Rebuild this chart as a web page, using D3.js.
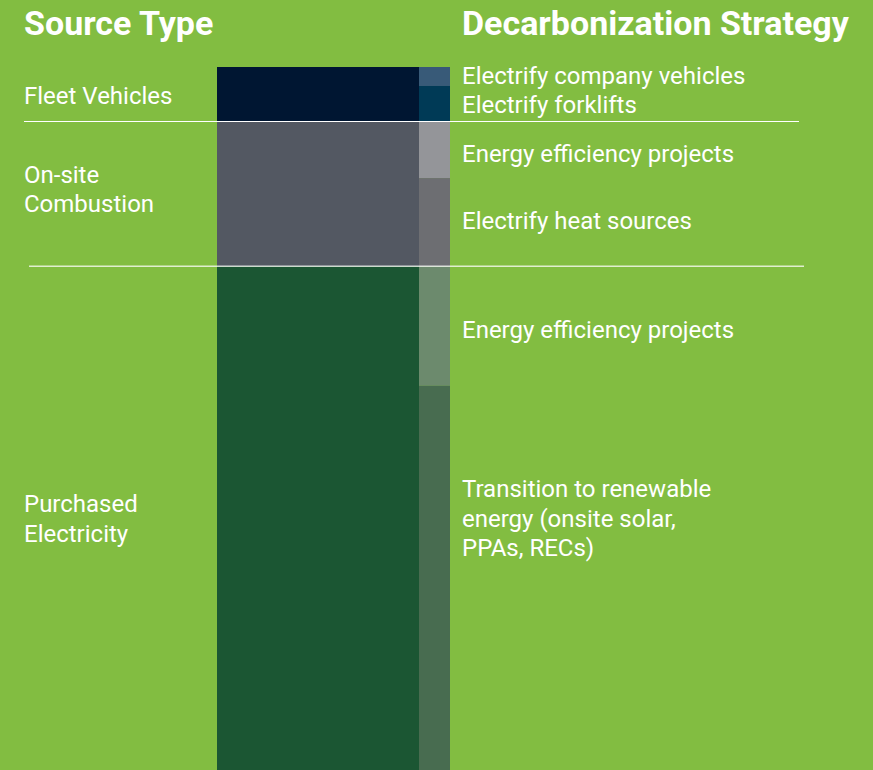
<!DOCTYPE html>
<html>
<head>
<meta charset="utf-8">
<script src="https://cdn.jsdelivr.net/npm/d3@7"></script>
<style>
  html, body { margin: 0; padding: 0; background: #82bd41; overflow: hidden; }
  text { font-family: Roboto, "Noto Sans", sans-serif; fill: #fff; }
</style>
</head>
<body>
<script>
// source types (left bar) - share of emissions
const sourceLines = [["Fleet Vehicles"], ["On-site", "Combustion"], ["Purchased", "Electricity"]];
const sourceValues = [7.75, 20.6, 71.65];
const sourceColors = ["#001632", "#535862", "#1b5633"];

// strategies (right thin bar)
const strategyLines = [
  ["Electrify company vehicles"],
  ["Electrify forklifts"],
  ["Energy efficiency projects"],
  ["Electrify heat sources"],
  ["Energy efficiency projects"],
  ["Transition to renewable", "energy (onsite solar,", "PPAs, RECs)"]
];
const strategyValues = [2.7, 5.05, 8.05, 12.55, 17.0, 54.65];
const strategyColors = ["#385a78", "#003a56", "#949599", "#6d6e72", "#6c8a6d", "#486c50"];

const W = 873, H = 770;

const svg = d3.select("body")
  .append("svg")
  .attr("width", W)
  .attr("height", H);

svg.append("rect")
  .attr("width", W)
  .attr("height", H)
  .attr("fill", "#82bd41");

const y = d3.scaleLinear().domain([0, 100]).range([67, 770]);

// cumulative stacks
function stack(vals) {
  let acc = 0;
  return vals.map(v => { let s = acc; acc += v; return [s, acc]; });
}
const srcStack = stack(sourceValues);
const strStack = stack(strategyValues);

// source bar wide, strategy bar thin
const srcX0 = 217, srcX1 = 419, strX0 = 419, strX1 = 450;

svg.selectAll("rect.src")
  .data(srcStack)
  .join("rect")
  .attr("class", "src")
  .attr("x", srcX0)
  .attr("width", srcX1 - srcX0)
  .attr("y", d => y(d[0]))
  .attr("height", d => y(d[1]) - y(d[0]))
  .attr("fill", (d, i) => sourceColors[i]);

svg.selectAll("rect.str")
  .data(strStack)
  .join("rect")
  .attr("class", "str")
  .attr("x", strX0)
  .attr("width", strX1 - strX0)
  .attr("y", d => y(d[0]))
  .attr("height", d => y(d[1]) - y(d[0]))
  .attr("fill", (d, i) => strategyColors[i]);

// separator lines
svg.append("line")
  .attr("x1", 24).attr("x2", 799)
  .attr("y1", y(srcStack[0][1])).attr("y2", y(srcStack[0][1]))
  .attr("stroke", "#fff").attr("stroke-width", 1.2);
svg.append("line")
  .attr("x1", 29).attr("x2", 804)
  .attr("y1", y(srcStack[1][1])).attr("y2", y(srcStack[1][1]))
  .attr("stroke", "#fff").attr("stroke-opacity", 0.75).attr("stroke-width", 1.5);

// headers
svg.append("text").attr("x", 24).attr("y", 35)
  .style("font-size", "34px").style("font-weight", 700)
  .text("Source Type");
svg.append("text").attr("x", 462).attr("y", 35)
  .style("font-size", "34px").style("font-weight", 700)
  .text("Decarbonization Strategy");

const lh = 29.5;

// baseline of first line of each label, relative to its segment middle
const srcDy = [10, -11, -6];
const strDy = [8, 9, 12, 7, 12, -21];

function multiline(x, y0, lines) {
  const t = svg.append("text").attr("x", x).style("font-size", "24px");
  lines.forEach((l, i) => {
    t.append("tspan").attr("x", x).attr("y", y0 + i * lh).text(l);
  });
}

sourceLines.forEach((lines, i) => {
  multiline(24, (y(srcStack[i][0]) + y(srcStack[i][1])) / 2 + srcDy[i], lines);
});

strategyLines.forEach((lines, i) => {
  let mid = (y(strStack[i][0]) + y(strStack[i][1])) / 2;
  // long renewable label sits at middle of purchased electricity block
  if (i === 5) mid = (y(srcStack[2][0]) + y(srcStack[2][1])) / 2;
  multiline(462, mid + strDy[i], lines);
});
</script>
</body>
</html>
